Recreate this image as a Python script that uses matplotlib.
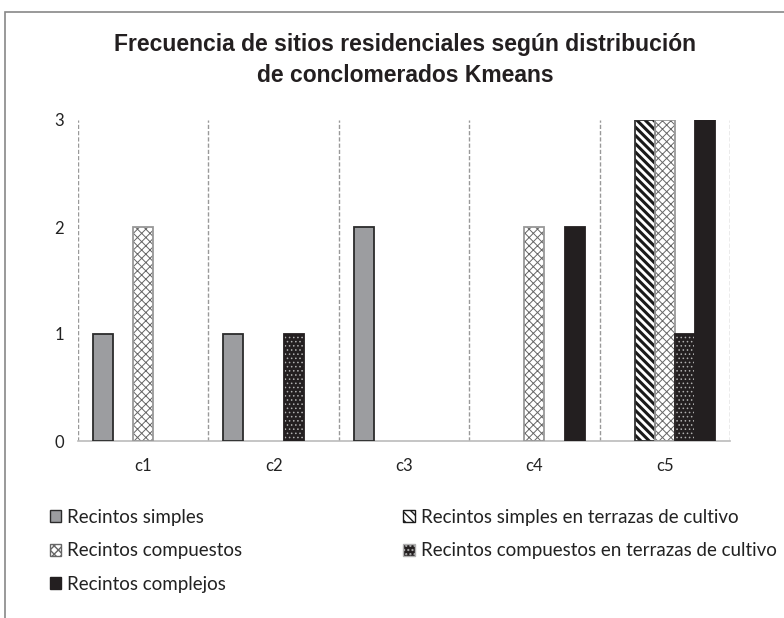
import matplotlib
matplotlib.use("Agg")
import matplotlib.pyplot as plt
from matplotlib.patches import Rectangle, Patch
import numpy as np

categories = ["c1", "c2", "c3", "c4", "c5"]
series_names = [
    "Recintos simples",
    "Recintos simples en terrazas de cultivo",
    "Recintos compuestos",
    "Recintos compuestos en terrazas de cultivo",
    "Recintos complejos",
]
simples = [1, 1, 2, 0, 0]
simples_terrazas = [0, 0, 0, 0, 3]
compuestos = [2, 0, 0, 2, 3]
compuestos_terrazas = [0, 1, 0, 0, 1]
complejos = [0, 0, 0, 2, 3]
yticks = [0, 1, 2, 3]

series = [simples, simples_terrazas, compuestos, compuestos_terrazas, complejos]
# (facecolor, hatch, hatchcolor, outline color, hatch linewidth)
styles = [
    ("#9c9da0", None, "#2b2b2b", "#2b2b2b", 1.0),
    ("white", "\\\\\\\\", "#1a1a1a", "#333333", 2.2),
    ("white", "xxxx", "#666666", "#999999", 0.7),
    ("#231f20", "....", "#b0b0b0", "#231f20", 0.6),
    ("#231f20", None, "#231f20", "#231f20", 1.0),
]

plt.rcParams['font.family'] = ['Lato', 'DejaVu Sans']
fig = plt.figure(figsize=(7.84, 6.18), dpi=100)
ax = fig.add_axes([78/784, 1-441/618, 652/784, 321/618])

x = np.arange(len(categories))
w = 0.154
handles = []
for i, (vals, (fc, hatch, hc, ec, hlw)) in enumerate(zip(series, styles)):
    pos = x + (i - 2) * w
    with plt.rc_context({'hatch.linewidth': hlw}):
        bars = ax.bar(pos, vals, width=w, color=fc, hatch=hatch, edgecolor=hc, linewidth=0, zorder=3)
        for b in bars:
            if hasattr(b, "set_hatch_linewidth"):
                b.set_hatch_linewidth(hlw)
        lws = [1.3 if v > 0 else 0 for v in vals]
        ax.bar(pos, vals, width=w, fill=False, edgecolor=ec, linewidth=lws, zorder=4)
        h = Patch(facecolor=fc, hatch=hatch, edgecolor=hc if hatch else ec, linewidth=1)
        if hasattr(h, "set_hatch_linewidth"):
            h.set_hatch_linewidth(min(hlw, 1.0))
        handles.append(h)

ax.set_xlim(-0.5, len(categories) - 0.5)
ax.set_ylim(0, 3)
for b in np.arange(-0.5, len(categories), 1.0):
    ax.axvline(b, color="#999999", linestyle=(0, (3, 1.5)), linewidth=1, zorder=1)
ax.set_xticks(x)
ax.set_xticklabels(categories, fontsize=12, color="#222222")
ax.set_yticks(yticks)
ax.set_yticklabels([str(v) for v in yticks], fontsize=12, color="#222222")
ax.tick_params(axis='x', length=0, pad=12)
ax.tick_params(axis='y', length=0, pad=10)
for s in ["top", "right", "left"]:
    ax.spines[s].set_visible(False)
ax.spines["bottom"].set_color("#bbbbbb")
ax.spines["bottom"].set_linewidth(1.2)

title_font = ['Liberation Sans Narrow', 'Liberation Sans', 'DejaVu Sans']
fig.text(405/784, 1-45/618, "Frecuencia de sitios residenciales según distribución",
         ha="center", va="center", fontsize=16.5, fontweight="bold", color="#231f20",
         family=title_font)
fig.text(405/784, 1-76/618, "de conclomerados Kmeans",
         ha="center", va="center", fontsize=16.5, fontweight="bold", color="#231f20",
         family=title_font)

order = [0, 2, 4, 1, 3]
leg = fig.legend([handles[k] for k in order], [series_names[k] for k in order],
                 ncol=2, loc="upper left", bbox_to_anchor=(46/784, 1-505/618),
                 frameon=False, fontsize=13.5, handlelength=0.62, handleheight=0.62,
                 handletextpad=0.3, labelspacing=0.88, columnspacing=8.6,
                 borderpad=0.2, borderaxespad=0)
for t in leg.get_texts():
    t.set_color("#222222")

fig.patches.append(Rectangle((5/784, -0.1), 1.2, 1-12/618+0.1, transform=fig.transFigure,
                             fill=False, edgecolor="#888888", linewidth=1.2))

fig.savefig("out.png", dpi=100)
